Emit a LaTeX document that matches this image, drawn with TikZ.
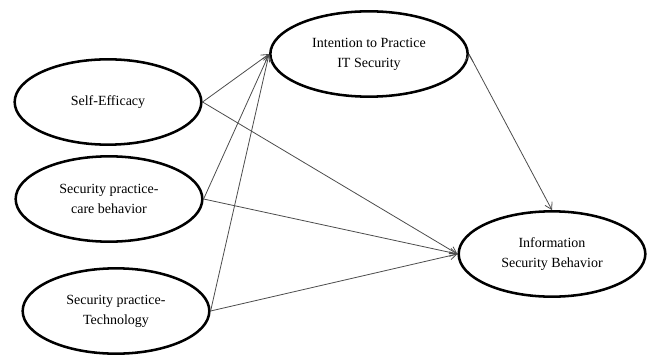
\documentclass[tikz,border=0pt]{standalone}
\usepackage{fontspec}
\setmainfont{Liberation Serif}
\usetikzlibrary{positioning, arrows.meta, shapes.geometric}

\tikzset{
  construct/.style={ellipse, draw=black, line width=1.9pt, inner sep=0pt,
    minimum width=140pt, minimum height=64pt, align=center,
    font=\fontsize{10.5}{15}\selectfont},
  path/.style={draw=black!70, line width=0.6pt,
    -{Straight Barb[length=5pt,width=6pt]}}
}

\begin{document}
\begin{tikzpicture}[x=0.75pt, y=-0.75pt]
           \useasboundingbox (0,0) rectangle (649,356);
           \node[construct] (se)   at (108,102) {Self-Efficacy};
           \node[construct] (care) at (109,199) {Security practice-\\care behavior};
           \node[construct] (tech) at (116,311) {Security practice-\\Technology};
           \node[construct, minimum width=148pt] (int) at (369,54) {Intention to Practice\\IT Security};
           \node[construct] (isb)  at (552,254) {Information\\Security Behavior};
            \path[path]
            (se.east)   edge (int.west)
                        edge (isb.west)
            (care.east) edge (int.west)
                        edge (isb.west)
            (tech.east) edge (int.west)
                        edge (isb.west)
            (int.east)  edge (isb.north);
        \end{tikzpicture}
\end{document}
